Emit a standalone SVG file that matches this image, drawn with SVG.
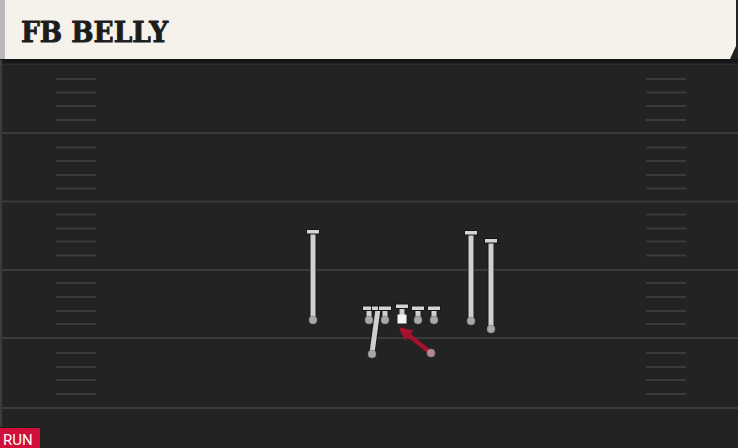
<svg xmlns="http://www.w3.org/2000/svg" width="738" height="448" viewBox="0 0 738 448">
<defs>
<style>
.yard{stroke:#3a3a3a;stroke-width:2}
.hash{stroke:#3b3b3b;stroke-width:2}
.stem{stroke:#d0d0d0;stroke-width:5;stroke-linecap:butt}
.stemo{stroke:#1a1a1a;stroke-width:7}
.bar{fill:#d4d4d4;stroke:#161616;stroke-width:1}
.dot{fill:#a9a9a9;stroke:#7a7a7a;stroke-width:0.6}
.title{font-family:"DejaVu Serif","Liberation Serif",serif;font-weight:bold;font-size:28px;fill:#1c1c1c;stroke:#1c1c1c;stroke-width:0.9}
.tag{font-family:"Roboto","Liberation Sans",sans-serif;font-size:15px;fill:#ffffff}
</style>
<marker id="ah" viewBox="0 0 10 10" refX="8" refY="5" markerWidth="3" markerHeight="3" orient="auto" markerUnits="strokeWidth">
<path d="M0,0 L10,5 L0,10 z" fill="#a4122e"/>
</marker>
</defs>
<rect x="0" y="0" width="738" height="448" fill="#232323"/>
<g id="header">
<rect x="0" y="0" width="5" height="60" fill="#b9b9b9"/>
<polygon points="5,0 736,0 736,46 730,59 5,59" fill="#f5f2ec"/>
<rect x="0" y="59" width="738" height="4" fill="#161616"/>
<line x1="0" y1="64.5" x2="738" y2="64.5" stroke="#2e2e2e" stroke-width="1"/>
<text class="title" x="21" y="42" textLength="147" lengthAdjust="spacingAndGlyphs">FB BELLY</text>
</g>
<g id="field">
<line x1="1" y1="60" x2="1" y2="428" stroke="#3c3c3c" stroke-width="2"/>
<line class="yard" x1="0" y1="133" x2="738" y2="133"/>
<line class="yard" x1="0" y1="201.5" x2="738" y2="201.5"/>
<line class="yard" x1="0" y1="270" x2="738" y2="270"/>
<line class="yard" x1="0" y1="338" x2="738" y2="338"/>
<line class="yard" x1="0" y1="408" x2="738" y2="408"/>
<g id="hashes-left">
<line class="hash" x1="56" y1="79" x2="96" y2="79"/><line class="hash" x1="56" y1="92.5" x2="96" y2="92.5"/><line class="hash" x1="56" y1="106" x2="96" y2="106"/><line class="hash" x1="56" y1="120" x2="96" y2="120"/>
<line class="hash" x1="56" y1="147.5" x2="96" y2="147.5"/><line class="hash" x1="56" y1="161" x2="96" y2="161"/><line class="hash" x1="56" y1="175" x2="96" y2="175"/><line class="hash" x1="56" y1="188.5" x2="96" y2="188.5"/>
<line class="hash" x1="56" y1="214.5" x2="96" y2="214.5"/><line class="hash" x1="56" y1="228.5" x2="96" y2="228.5"/><line class="hash" x1="56" y1="241.5" x2="96" y2="241.5"/><line class="hash" x1="56" y1="255.5" x2="96" y2="255.5"/>
<line class="hash" x1="56" y1="283" x2="96" y2="283"/><line class="hash" x1="56" y1="297" x2="96" y2="297"/><line class="hash" x1="56" y1="311" x2="96" y2="311"/><line class="hash" x1="56" y1="324" x2="96" y2="324"/>
<line class="hash" x1="56" y1="353" x2="96" y2="353"/><line class="hash" x1="56" y1="367" x2="96" y2="367"/><line class="hash" x1="56" y1="380" x2="96" y2="380"/><line class="hash" x1="56" y1="394" x2="96" y2="394"/>
</g>
<g id="hashes-right">
<line class="hash" x1="646" y1="79" x2="686" y2="79"/><line class="hash" x1="646" y1="92.5" x2="686" y2="92.5"/><line class="hash" x1="646" y1="106" x2="686" y2="106"/><line class="hash" x1="646" y1="120" x2="686" y2="120"/>
<line class="hash" x1="646" y1="147.5" x2="686" y2="147.5"/><line class="hash" x1="646" y1="161" x2="686" y2="161"/><line class="hash" x1="646" y1="175" x2="686" y2="175"/><line class="hash" x1="646" y1="188.5" x2="686" y2="188.5"/>
<line class="hash" x1="646" y1="214.5" x2="686" y2="214.5"/><line class="hash" x1="646" y1="228.5" x2="686" y2="228.5"/><line class="hash" x1="646" y1="241.5" x2="686" y2="241.5"/><line class="hash" x1="646" y1="255.5" x2="686" y2="255.5"/>
<line class="hash" x1="646" y1="283" x2="686" y2="283"/><line class="hash" x1="646" y1="297" x2="686" y2="297"/><line class="hash" x1="646" y1="311" x2="686" y2="311"/><line class="hash" x1="646" y1="324" x2="686" y2="324"/>
<line class="hash" x1="646" y1="353" x2="686" y2="353"/><line class="hash" x1="646" y1="367" x2="686" y2="367"/><line class="hash" x1="646" y1="380" x2="686" y2="380"/><line class="hash" x1="646" y1="394" x2="686" y2="394"/>
</g>
</g>
<g id="connectors">
<line class="stemo" x1="313" y1="232" x2="313" y2="320"/><line class="stem" x1="313" y1="232" x2="313" y2="320"/>
<line class="stemo" x1="471" y1="233" x2="471" y2="321"/><line class="stem" x1="471" y1="233" x2="471" y2="321"/>
<line class="stemo" x1="491" y1="241" x2="491" y2="329"/><line class="stem" x1="491" y1="241" x2="491" y2="329"/>
<line class="stemo" x1="369" y1="309" x2="369" y2="320"/><line class="stem" x1="369" y1="309" x2="369" y2="320"/>
<line class="stemo" x1="385" y1="309" x2="385" y2="320"/><line class="stem" x1="385" y1="309" x2="385" y2="320"/>
<line class="stemo" x1="402" y1="307" x2="402" y2="316"/><line class="stem" x1="402" y1="307" x2="402" y2="316"/>
<line class="stemo" x1="418" y1="309" x2="418" y2="320"/><line class="stem" x1="418" y1="309" x2="418" y2="320"/>
<line class="stemo" x1="434" y1="309" x2="434" y2="320"/><line class="stem" x1="434" y1="309" x2="434" y2="320"/>
<line class="stemo" x1="372" y1="353" x2="378" y2="309"/><line class="stem" x1="372" y1="353" x2="378" y2="309"/>
<line x1="431" y1="353" x2="401" y2="329" stroke="#a4122e" stroke-width="4.5" marker-end="url(#ah)"/>
</g>
<g id="wr-left"><rect class="bar" x="306.5" y="229.5" width="13" height="4.5"/><circle class="dot" cx="313" cy="320" r="4"/></g>
<g id="wr-right1"><rect class="bar" x="464.5" y="230.5" width="13" height="4.5"/><circle class="dot" cx="471" cy="321" r="4"/></g>
<g id="wr-right2"><rect class="bar" x="484.5" y="238.5" width="13" height="4.5"/><circle class="dot" cx="491" cy="329" r="4"/></g>
<g id="lt"><rect class="bar" x="362.5" y="306" width="13" height="4.5"/><circle class="dot" cx="369" cy="320" r="4"/></g>
<g id="rb-route"><rect class="bar" x="371.5" y="306" width="13" height="4.5"/></g>
<g id="lg"><rect class="bar" x="378.5" y="306" width="13" height="4.5"/><circle class="dot" cx="385" cy="320" r="4"/></g>
<g id="center"><rect class="bar" x="395.5" y="304" width="13" height="4.5"/><rect x="397.5" y="314.5" width="9" height="9" fill="#f6f6f6"/></g>
<g id="rg"><rect class="bar" x="411.5" y="306" width="13" height="4.5"/><circle class="dot" cx="418" cy="320" r="4"/></g>
<g id="rt"><rect class="bar" x="427.5" y="306" width="13" height="4.5"/><circle class="dot" cx="434" cy="320" r="4"/></g>
<g id="rb"><circle class="dot" cx="372" cy="354" r="4"/></g>
<g id="fb"><circle cx="431" cy="353" r="4" fill="#b08a90" stroke="#7a7a7a" stroke-width="0.6"/></g>
<g id="run-tag">
<line x1="0" y1="427.5" x2="40" y2="427.5" stroke="#111" stroke-width="1" stroke-dasharray="1,2"/>
<rect x="0" y="428" width="40" height="20" fill="#d0103a"/>
<text class="tag" x="3" y="444.5">RUN</text>
</g>
</svg>
